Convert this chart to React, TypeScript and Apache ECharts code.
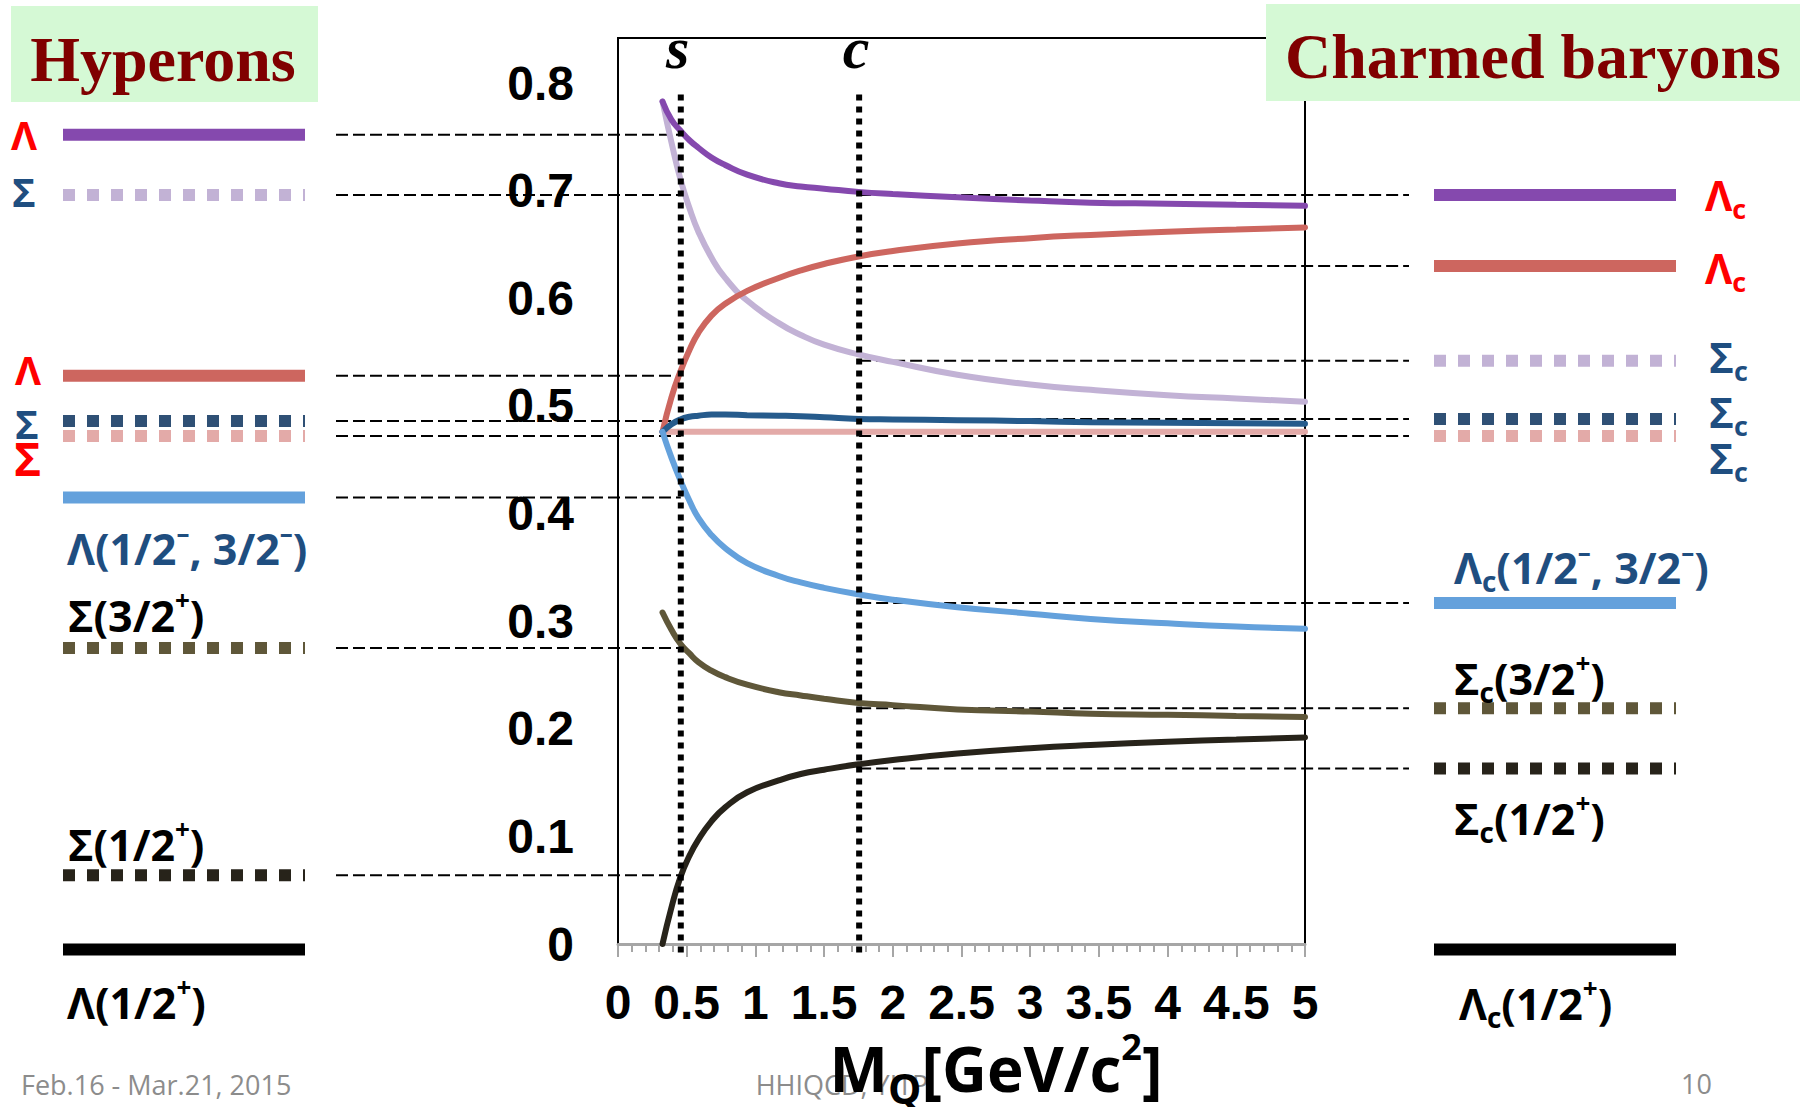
import React, { useEffect, useRef } from "react";
import * as echarts from "echarts";

// ---------------- data ----------------
// heavy-quark mass grid (GeV/c^2) at which the curves were read
const MQ = [0.324, 0.389, 0.454, 0.52, 0.585, 0.68, 0.78, 0.94, 1.17, 1.33, 1.5, 1.75, 2.0, 2.47, 3.0, 3.44, 4.0, 4.5, 5.0];
// excitation energies (GeV) of each curve at MQ
const CURVE_PURPLE = [0.783, 0.766, 0.756, 0.747, 0.740, 0.731, 0.724, 0.715, 0.707, 0.704, 0.702, 0.699, 0.697, 0.694, 0.691, 0.689, 0.688, 0.687, 0.686];
const CURVE_LILAC = [0.783, 0.745, 0.711, 0.684, 0.662, 0.638, 0.619, 0.598, 0.577, 0.566, 0.557, 0.548, 0.541, 0.529, 0.520, 0.515, 0.510, 0.507, 0.504];
const CURVE_RED = [0.476, 0.508, 0.532, 0.552, 0.568, 0.584, 0.595, 0.607, 0.619, 0.626, 0.632, 0.639, 0.644, 0.651, 0.656, 0.659, 0.662, 0.664, 0.666];
const CURVE_NAVY = [0.476, 0.483, 0.4875, 0.490, 0.491, 0.492, 0.492, 0.4915, 0.491, 0.4905, 0.4895, 0.488, 0.4875, 0.4868, 0.486, 0.485, 0.4845, 0.484, 0.4835];
const CURVE_PINK = [0.476, 0.476, 0.476, 0.476, 0.476, 0.476, 0.476, 0.476, 0.476, 0.476, 0.476, 0.476, 0.476, 0.476, 0.476, 0.476, 0.476, 0.476, 0.476];
const CURVE_BLUE = [0.476, 0.452, 0.431, 0.412, 0.396, 0.380, 0.368, 0.354, 0.342, 0.336, 0.331, 0.325, 0.320, 0.313, 0.307, 0.302, 0.298, 0.295, 0.293];
const CURVE_OLIVE = [0.308, 0.292, 0.279, 0.270, 0.262, 0.254, 0.248, 0.241, 0.234, 0.231, 0.228, 0.224, 0.222, 0.218, 0.216, 0.214, 0.213, 0.212, 0.211];
const CURVE_DARK = [0.000, 0.034, 0.062, 0.082, 0.097, 0.114, 0.127, 0.141, 0.152, 0.158, 0.162, 0.167, 0.171, 0.177, 0.182, 0.185, 0.188, 0.190, 0.192];

const QUARK_NAMES = ["s", "c"];
const QUARK_MASSES = [0.457, 1.755];

const HYPERON_NAMES = ["Λ", "Σ", "Λ", "Σ", "Σ", "Λ(1/2⁻, 3/2⁻)", "Σ(3/2⁺)", "Σ(1/2⁺)", "Λ(1/2⁺)"];
const HYPERON_LEVELS = [0.752, 0.696, 0.528, 0.486, 0.472, 0.415, 0.275, 0.064, -0.005];
const CHARMED_NAMES = ["Λc", "Λc", "Σc", "Σc", "Σc", "Λc(1/2⁻, 3/2⁻)", "Σc(3/2⁺)", "Σc(1/2⁺)", "Λc(1/2⁺)"];
const CHARMED_LEVELS = [0.696, 0.630, 0.542, 0.488, 0.472, 0.317, 0.219, 0.163, -0.005];

const TITLE_LEFT = "Hyperons";
const TITLE_RIGHT = "Charmed baryons";
const FOOTER_LEFT = "Feb.16 - Mar.21, 2015";
const FOOTER_MID = "HHIQCD, YITP";
const FOOTER_RIGHT = "10";

// ---------------- styles & layout ----------------
const C_PURPLE = "#8549ae";
const C_LILAC = "#c2b2d5";
const C_RED = "#cd665f";
const C_NAVY_CURVE = "#265b8c";
const C_NAVY_LEVEL = "#2f5075";
const C_PINK = "#e3aaa8";
const C_BLUE = "#64a1dc";
const C_OLIVE = "#5f5739";
const C_DARK = "#27231a";
const C_TEXT_BLUE = "#1f4e80";

const CURVES = [
  { y: CURVE_LILAC, color: C_LILAC },
  { y: CURVE_PURPLE, color: C_PURPLE },
  { y: CURVE_PINK, color: C_PINK },
  { y: CURVE_RED, color: C_RED },
  { y: CURVE_NAVY, color: C_NAVY_CURVE },
  { y: CURVE_BLUE, color: C_BLUE },
  { y: CURVE_OLIVE, color: C_OLIVE },
  { y: CURVE_DARK, color: C_DARK },
];

const HYPERON_COLORS = [C_PURPLE, C_LILAC, C_RED, C_NAVY_LEVEL, C_PINK, C_BLUE, C_OLIVE, C_DARK, "#000"];
const HYPERON_DOTTED = [false, true, false, true, true, false, true, true, false];
const CHARMED_COLORS = [C_PURPLE, C_RED, C_LILAC, C_NAVY_LEVEL, C_PINK, C_BLUE, C_OLIVE, C_DARK, "#000"];
const CHARMED_DOTTED = [false, false, true, true, true, false, true, true, false];

const HYPERON_LABEL_POS = [[11, 134], [12, 191], [15, 369], [15, 423], [14, 458], [67, 548], [68, 615], [68, 844], [67, 1002]];
const HYPERON_LABEL_SIZE = [40, 40, 40, 40, 46, 43, 43, 43, 43];
const HYPERON_LABEL_COLOR = ["#ff0000", C_TEXT_BLUE, "#ff0000", C_TEXT_BLUE, "#ff0000", C_TEXT_BLUE, "#000", "#000", "#000"];
const CHARMED_LABEL_POS = [[1705, 194], [1705, 267], [1709, 356], [1709, 411], [1709, 457], [1454, 567], [1454, 678], [1454, 818], [1459, 1003]];
const CHARMED_LABEL_SIZE = [42, 42, 42, 42, 42, 43, 43, 43, 43];
const CHARMED_LABEL_COLOR = ["#ff0000", "#ff0000", C_TEXT_BLUE, C_TEXT_BLUE, C_TEXT_BLUE, C_TEXT_BLUE, "#000", "#000", "#000"];

const W = 1800;
const H = 1107;
const PLOT_LEFT = 618;
const PLOT_TOP = 38;
const PLOT_W = 687;
const PLOT_H = 906;
const X_MAX = 5;
const Y_MAX = 0.842;
const LEFT_BAR = [63, 305];
const RIGHT_BAR = [1434, 1676];
const LEFT_CONN_X0 = 336;
const RIGHT_CONN_X1 = 1409;

const SANS = "'Open Sans', 'Noto Sans', 'DejaVu Sans', sans-serif";
const NARROW = "'Liberation Sans Narrow', 'Arial Narrow', 'Liberation Sans', Arial, sans-serif";
const SERIF = "'Liberation Serif', 'Times New Roman', serif";

const massToPx = (m: number) => PLOT_LEFT + (m * PLOT_W) / X_MAX;

function toRich(name: string) {
  let out = "";
  let buf = "";
  const flush = () => {
    if (buf) out += `{m|${buf}}`;
    buf = "";
  };
  for (let i = 0; i < name.length; i++) {
    const ch = name[i];
    if (ch === "c" && i > 0 && (name[i - 1] === "Λ" || name[i - 1] === "Σ")) {
      flush();
      out += "{sub|c}";
    } else if (ch === "⁺") {
      flush();
      out += "{sup|+}";
    } else if (ch === "⁻") {
      flush();
      out += "{sup|–}";
    } else buf += ch;
  }
  flush();
  return out;
}

function richLabel(name: string, x: number, y: number, size: number, color: string) {
  return {
    type: "text",
    x,
    y,
    z: 20,
    style: {
      text: toRich(name),
      align: "left",
      verticalAlign: "middle",
      rich: {
        m: { fontSize: size, fontWeight: "bold", fontFamily: SANS, fill: color, lineHeight: Math.round(size * 1.3) },
        sub: { fontSize: Math.round(size * 0.65), fontWeight: "bold", fontFamily: SANS, fill: color, lineHeight: Math.round(size * 0.55), verticalAlign: "bottom" },
        sup: { fontSize: Math.round(size * 0.6), fontWeight: "bold", fontFamily: SANS, fill: color, lineHeight: Math.round(size * 0.6), verticalAlign: "top" },
      },
    },
  };
}

function levelSeries(x0: number, x1: number, v: number, color: string, dotted: boolean) {
  return {
    type: "line",
    xAxisIndex: 1,
    yAxisIndex: 1,
    data: [[x0, v], [x1, v]],
    symbol: "none",
    clip: false,
    silent: true,
    z: 3,
    lineStyle: { color, width: 12, type: dotted ? [12, 12] : "solid", cap: "butt" },
  };
}

function connectorSeries(x0: number, x1: number, v: number) {
  return {
    type: "line",
    xAxisIndex: 1,
    yAxisIndex: 1,
    data: [[x0, v], [x1, v]],
    symbol: "none",
    clip: false,
    silent: true,
    z: 2,
    lineStyle: { color: "#000", width: 2, type: [12, 5] },
  };
}

export default function App() {
  const ref = useRef<HTMLDivElement>(null);

  useEffect(() => {
    if (!ref.current) return;
    const chart = echarts.init(ref.current, undefined, { renderer: "svg" });

    const series: any[] = [];
    const sPx = massToPx(QUARK_MASSES[0]);
    const cPx = massToPx(QUARK_MASSES[1]);

    HYPERON_LEVELS.forEach((v, i) => {
      if (i < HYPERON_LEVELS.length - 1) series.push(connectorSeries(LEFT_CONN_X0, sPx, v));
      series.push(levelSeries(LEFT_BAR[0], LEFT_BAR[1], v, HYPERON_COLORS[i], HYPERON_DOTTED[i]));
    });
    CHARMED_LEVELS.forEach((v, i) => {
      if (i < CHARMED_LEVELS.length - 1) series.push(connectorSeries(cPx, RIGHT_CONN_X1, v));
      series.push(levelSeries(RIGHT_BAR[0], RIGHT_BAR[1], v, CHARMED_COLORS[i], CHARMED_DOTTED[i]));
    });

    CURVES.forEach((c) => {
      series.push({
        type: "line",
        xAxisIndex: 0,
        yAxisIndex: 0,
        data: MQ.map((m, i) => [m, c.y[i]]),
        smooth: 0.5,
        symbol: "none",
        clip: false,
        silent: true,
        z: 4,
        lineStyle: { color: c.color, width: 6, cap: "round" },
      });
    });

    QUARK_MASSES.forEach((m) => {
      series.push({
        type: "line",
        xAxisIndex: 0,
        yAxisIndex: 0,
        data: [[m, -0.008], [m, 0.791]],
        symbol: "none",
        clip: false,
        silent: true,
        z: 6,
        lineStyle: { color: "#000", width: 6, type: [6, 6] },
      });
    });

    const graphics: any[] = [
      { type: "rect", z: 100, shape: { x: 11, y: 6, width: 307, height: 96 }, style: { fill: "#d5f9d5" } },
      { type: "rect", z: 100, shape: { x: 1266, y: 4, width: 534, height: 97 }, style: { fill: "#d5f9d5" } },
      { type: "text", z: 101, x: 163, y: 59, style: { text: TITLE_LEFT, align: "center", verticalAlign: "middle", font: `bold 64px ${SERIF}`, fill: "#800000" } },
      { type: "text", z: 101, x: 1533, y: 56, style: { text: TITLE_RIGHT, align: "center", verticalAlign: "middle", font: `bold 64px ${SERIF}`, fill: "#800000" } },
      { type: "text", z: 20, x: 21, y: 1084, style: { text: FOOTER_LEFT, align: "left", verticalAlign: "middle", font: `27px ${SANS}`, fill: "#8c8c8c" } },
      { type: "text", z: 20, x: 842, y: 1084, style: { text: FOOTER_MID, align: "center", verticalAlign: "middle", font: `27px ${SANS}`, fill: "#8c8c8c" } },
      { type: "text", z: 20, x: 1681, y: 1083, style: { text: FOOTER_RIGHT, align: "left", verticalAlign: "middle", font: `27px ${SANS}`, fill: "#8c8c8c" } },
      {
        type: "text",
        z: 30,
        x: 996,
        y: 1068,
        style: {
          text: "{m|M}{q|Q}{m|[GeV/c}{s|2}{m|]}",
          align: "center",
          verticalAlign: "middle",
          rich: {
            m: { fontSize: 62, fontWeight: "bold", fontFamily: SANS, fill: "#000", lineHeight: 80 },
            q: { fontSize: 42, fontWeight: "bold", fontFamily: SANS, fill: "#000", lineHeight: 34, verticalAlign: "bottom" },
            s: { fontSize: 36, fontWeight: "bold", fontFamily: SANS, fill: "#000", lineHeight: 34, verticalAlign: "top" },
          },
        },
      },
    ];
    QUARK_MASSES.forEach((m, i) => {
      graphics.push({
        type: "text",
        z: 20,
        x: massToPx(m) - 3,
        y: 48,
        style: { text: QUARK_NAMES[i], align: "center", verticalAlign: "middle", font: `italic bold 60px ${SERIF}`, fill: "#000" },
      });
    });
    HYPERON_NAMES.forEach((n, i) => {
      graphics.push(richLabel(n, HYPERON_LABEL_POS[i][0], HYPERON_LABEL_POS[i][1], HYPERON_LABEL_SIZE[i], HYPERON_LABEL_COLOR[i]));
    });
    CHARMED_NAMES.forEach((n, i) => {
      graphics.push(richLabel(n, CHARMED_LABEL_POS[i][0], CHARMED_LABEL_POS[i][1], CHARMED_LABEL_SIZE[i], CHARMED_LABEL_COLOR[i]));
    });

    const option: any = {
      animation: false,
      backgroundColor: "#ffffff",
      grid: [
        { left: PLOT_LEFT, top: PLOT_TOP, width: PLOT_W, height: PLOT_H, show: true, borderColor: "#000", borderWidth: 2, backgroundColor: "transparent" },
        { left: 0, top: PLOT_TOP, width: W, height: PLOT_H, show: false },
      ],
      xAxis: [
        {
          gridIndex: 0,
          type: "value",
          min: 0,
          max: X_MAX,
          interval: 0.5,
          axisLine: { show: true, onZero: false, lineStyle: { color: "#a6a6a6", width: 3 } },
          axisTick: { show: true, length: 13, lineStyle: { color: "#a6a6a6", width: 2 } },
          minorTick: { show: true, splitNumber: 5, length: 8, lineStyle: { color: "#a6a6a6", width: 2 } },
          splitLine: { show: false },
          minorSplitLine: { show: false },
          axisLabel: { interval: 0, margin: 34, fontSize: 48, fontWeight: "bold", fontFamily: NARROW, color: "#000" },
        },
        { gridIndex: 1, type: "value", min: 0, max: W, show: false },
      ],
      yAxis: [
        {
          gridIndex: 0,
          type: "value",
          min: 0,
          max: Y_MAX,
          interval: 0.1,
          axisLine: { show: false },
          axisTick: { show: false },
          splitLine: { show: false },
          axisLabel: {
            margin: 44,
            fontSize: 48,
            fontWeight: "bold",
            fontFamily: NARROW,
            color: "#000",
            showMaxLabel: false,
            formatter: (v: number) => (Math.abs(v * 10 - Math.round(v * 10)) < 1e-6 ? String(Math.round(v * 10) / 10) : ""),
          },
        },
        { gridIndex: 1, type: "value", min: 0, max: Y_MAX, show: false },
      ],
      series,
      graphic: { elements: graphics },
    };

    chart.setOption(option);
    return () => chart.dispose();
  }, []);

  return <div ref={ref} style={{ position: "absolute", left: 0, top: 0, width: W, height: H, background: "#fff" }} />;
}
